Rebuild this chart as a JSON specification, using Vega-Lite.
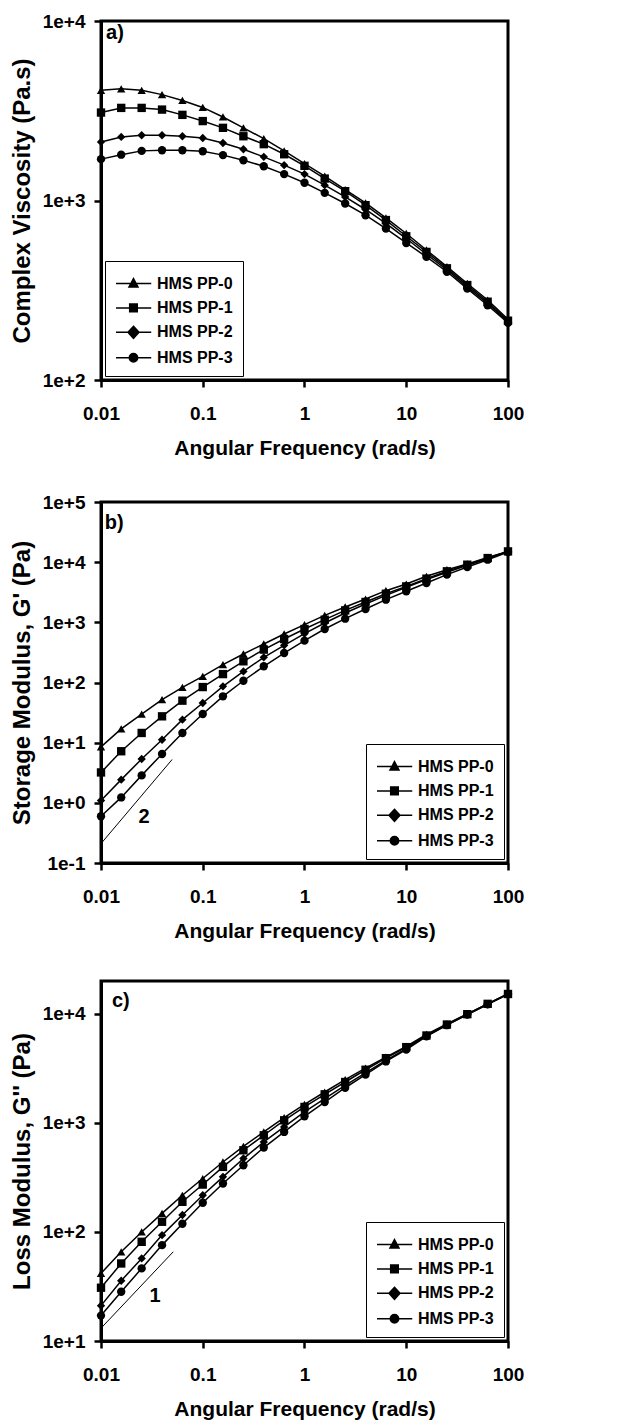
{
"$schema": "https://vega.github.io/schema/vega-lite/v6.json",
"padding": {"left": 8, "top": 10, "right": 5, "bottom": 5},
"background": "white",
"datasets": {
"a": [
{"w":0.01,"s":"HMS PP-0","v":4110},{"w":0.0158,"s":"HMS PP-0","v":4190},{"w":0.0251,"s":"HMS PP-0","v":4110},{"w":0.0398,"s":"HMS PP-0","v":3890},{"w":0.0631,"s":"HMS PP-0","v":3610},{"w":0.1,"s":"HMS PP-0","v":3300},{"w":0.158,"s":"HMS PP-0","v":2920},{"w":0.251,"s":"HMS PP-0","v":2540},{"w":0.398,"s":"HMS PP-0","v":2210},{"w":0.631,"s":"HMS PP-0","v":1890},{"w":1,"s":"HMS PP-0","v":1607},{"w":1.58,"s":"HMS PP-0","v":1366},{"w":2.51,"s":"HMS PP-0","v":1150},{"w":3.98,"s":"HMS PP-0","v":970},{"w":6.31,"s":"HMS PP-0","v":801},{"w":10,"s":"HMS PP-0","v":655},{"w":15.8,"s":"HMS PP-0","v":530},{"w":25.1,"s":"HMS PP-0","v":428},{"w":39.8,"s":"HMS PP-0","v":345},{"w":63.1,"s":"HMS PP-0","v":279},{"w":100,"s":"HMS PP-0","v":218},
{"w":0.01,"s":"HMS PP-1","v":3090},{"w":0.0158,"s":"HMS PP-1","v":3280},{"w":0.0251,"s":"HMS PP-1","v":3280},{"w":0.0398,"s":"HMS PP-1","v":3210},{"w":0.0631,"s":"HMS PP-1","v":3000},{"w":0.1,"s":"HMS PP-1","v":2770},{"w":0.158,"s":"HMS PP-1","v":2540},{"w":0.251,"s":"HMS PP-1","v":2280},{"w":0.398,"s":"HMS PP-1","v":2060},{"w":0.631,"s":"HMS PP-1","v":1810},{"w":1,"s":"HMS PP-1","v":1560},{"w":1.58,"s":"HMS PP-1","v":1325},{"w":2.51,"s":"HMS PP-1","v":1127},{"w":3.98,"s":"HMS PP-1","v":942},{"w":6.31,"s":"HMS PP-1","v":778},{"w":10,"s":"HMS PP-1","v":632},{"w":15.8,"s":"HMS PP-1","v":517},{"w":25.1,"s":"HMS PP-1","v":419},{"w":39.8,"s":"HMS PP-1","v":338},{"w":63.1,"s":"HMS PP-1","v":273},{"w":100,"s":"HMS PP-1","v":214},
{"w":0.01,"s":"HMS PP-2","v":2120},{"w":0.0158,"s":"HMS PP-2","v":2260},{"w":0.0251,"s":"HMS PP-2","v":2310},{"w":0.0398,"s":"HMS PP-2","v":2310},{"w":0.0631,"s":"HMS PP-2","v":2280},{"w":0.1,"s":"HMS PP-2","v":2230},{"w":0.158,"s":"HMS PP-2","v":2090},{"w":0.251,"s":"HMS PP-2","v":1930},{"w":0.398,"s":"HMS PP-2","v":1750},{"w":0.631,"s":"HMS PP-2","v":1574},{"w":1,"s":"HMS PP-2","v":1403},{"w":1.58,"s":"HMS PP-2","v":1218},{"w":2.51,"s":"HMS PP-2","v":1047},{"w":3.98,"s":"HMS PP-2","v":891},{"w":6.31,"s":"HMS PP-2","v":745},{"w":10,"s":"HMS PP-2","v":614},{"w":15.8,"s":"HMS PP-2","v":502},{"w":25.1,"s":"HMS PP-2","v":410},{"w":39.8,"s":"HMS PP-2","v":330},{"w":63.1,"s":"HMS PP-2","v":267},{"w":100,"s":"HMS PP-2","v":211},
{"w":0.01,"s":"HMS PP-3","v":1700},{"w":0.0158,"s":"HMS PP-3","v":1800},{"w":0.0251,"s":"HMS PP-3","v":1890},{"w":0.0398,"s":"HMS PP-3","v":1905},{"w":0.0631,"s":"HMS PP-3","v":1905},{"w":0.1,"s":"HMS PP-3","v":1880},{"w":0.158,"s":"HMS PP-3","v":1790},{"w":0.251,"s":"HMS PP-3","v":1676},{"w":0.398,"s":"HMS PP-3","v":1552},{"w":0.631,"s":"HMS PP-3","v":1403},{"w":1,"s":"HMS PP-3","v":1255},{"w":1.58,"s":"HMS PP-3","v":1103},{"w":2.51,"s":"HMS PP-3","v":962},{"w":3.98,"s":"HMS PP-3","v":828},{"w":6.31,"s":"HMS PP-3","v":698},{"w":10,"s":"HMS PP-3","v":580},{"w":15.8,"s":"HMS PP-3","v":485},{"w":25.1,"s":"HMS PP-3","v":401},{"w":39.8,"s":"HMS PP-3","v":323},{"w":63.1,"s":"HMS PP-3","v":261},{"w":100,"s":"HMS PP-3","v":208}
],
"b": [
{"w":0.01,"s":"HMS PP-0","v":8.5},{"w":0.0158,"s":"HMS PP-0","v":16.9},{"w":0.0251,"s":"HMS PP-0","v":29.9},{"w":0.0398,"s":"HMS PP-0","v":51.9},{"w":0.0631,"s":"HMS PP-0","v":83},{"w":0.1,"s":"HMS PP-0","v":126},{"w":0.158,"s":"HMS PP-0","v":198},{"w":0.251,"s":"HMS PP-0","v":298},{"w":0.398,"s":"HMS PP-0","v":437},{"w":0.631,"s":"HMS PP-0","v":640},{"w":1,"s":"HMS PP-0","v":915},{"w":1.58,"s":"HMS PP-0","v":1307},{"w":2.51,"s":"HMS PP-0","v":1800},{"w":3.98,"s":"HMS PP-0","v":2440},{"w":6.31,"s":"HMS PP-0","v":3360},{"w":10,"s":"HMS PP-0","v":4330},{"w":15.8,"s":"HMS PP-0","v":5820},{"w":25.1,"s":"HMS PP-0","v":7500},{"w":39.8,"s":"HMS PP-0","v":9330},{"w":63.1,"s":"HMS PP-0","v":12000},{"w":100,"s":"HMS PP-0","v":15100},
{"w":0.01,"s":"HMS PP-1","v":3.2},{"w":0.0158,"s":"HMS PP-1","v":7.2},{"w":0.0251,"s":"HMS PP-1","v":14.5},{"w":0.0398,"s":"HMS PP-1","v":27.4},{"w":0.0631,"s":"HMS PP-1","v":49.9},{"w":0.1,"s":"HMS PP-1","v":84},{"w":0.158,"s":"HMS PP-1","v":138},{"w":0.251,"s":"HMS PP-1","v":225},{"w":0.398,"s":"HMS PP-1","v":352},{"w":0.631,"s":"HMS PP-1","v":528},{"w":1,"s":"HMS PP-1","v":775},{"w":1.58,"s":"HMS PP-1","v":1107},{"w":2.51,"s":"HMS PP-1","v":1582},{"w":3.98,"s":"HMS PP-1","v":2180},{"w":6.31,"s":"HMS PP-1","v":2990},{"w":10,"s":"HMS PP-1","v":3960},{"w":15.8,"s":"HMS PP-1","v":5320},{"w":25.1,"s":"HMS PP-1","v":7050},{"w":39.8,"s":"HMS PP-1","v":9080},{"w":63.1,"s":"HMS PP-1","v":11700},{"w":100,"s":"HMS PP-1","v":15100},
{"w":0.01,"s":"HMS PP-2","v":1.09},{"w":0.0158,"s":"HMS PP-2","v":2.43},{"w":0.0251,"s":"HMS PP-2","v":5.35},{"w":0.0398,"s":"HMS PP-2","v":11.2},{"w":0.0631,"s":"HMS PP-2","v":24.1},{"w":0.1,"s":"HMS PP-2","v":45.6},{"w":0.158,"s":"HMS PP-2","v":86.3},{"w":0.251,"s":"HMS PP-2","v":153},{"w":0.398,"s":"HMS PP-2","v":262},{"w":0.631,"s":"HMS PP-2","v":415},{"w":1,"s":"HMS PP-2","v":648},{"w":1.58,"s":"HMS PP-2","v":975},{"w":2.51,"s":"HMS PP-2","v":1430},{"w":3.98,"s":"HMS PP-2","v":2020},{"w":6.31,"s":"HMS PP-2","v":2810},{"w":10,"s":"HMS PP-2","v":3820},{"w":15.8,"s":"HMS PP-2","v":5120},{"w":25.1,"s":"HMS PP-2","v":6780},{"w":39.8,"s":"HMS PP-2","v":8850},{"w":63.1,"s":"HMS PP-2","v":11400},{"w":100,"s":"HMS PP-2","v":15100},
{"w":0.01,"s":"HMS PP-3","v":0.6},{"w":0.0158,"s":"HMS PP-3","v":1.23},{"w":0.0251,"s":"HMS PP-3","v":2.86},{"w":0.0398,"s":"HMS PP-3","v":6.48},{"w":0.0631,"s":"HMS PP-3","v":14.5},{"w":0.1,"s":"HMS PP-3","v":29.9},{"w":0.158,"s":"HMS PP-3","v":58.9},{"w":0.251,"s":"HMS PP-3","v":107},{"w":0.398,"s":"HMS PP-3","v":186},{"w":0.631,"s":"HMS PP-3","v":309},{"w":1,"s":"HMS PP-3","v":496},{"w":1.58,"s":"HMS PP-3","v":775},{"w":2.51,"s":"HMS PP-3","v":1150},{"w":3.98,"s":"HMS PP-3","v":1667},{"w":6.31,"s":"HMS PP-3","v":2380},{"w":10,"s":"HMS PP-3","v":3280},{"w":15.8,"s":"HMS PP-3","v":4500},{"w":25.1,"s":"HMS PP-3","v":6200},{"w":39.8,"s":"HMS PP-3","v":8310},{"w":63.1,"s":"HMS PP-3","v":11000},{"w":100,"s":"HMS PP-3","v":14750}
],
"c": [
{"w":0.01,"s":"HMS PP-0","v":41.7},{"w":0.0158,"s":"HMS PP-0","v":65.8},{"w":0.0251,"s":"HMS PP-0","v":100},{"w":0.0398,"s":"HMS PP-0","v":148},{"w":0.0631,"s":"HMS PP-0","v":217},{"w":0.1,"s":"HMS PP-0","v":309},{"w":0.158,"s":"HMS PP-0","v":438},{"w":0.251,"s":"HMS PP-0","v":610},{"w":0.398,"s":"HMS PP-0","v":826},{"w":0.631,"s":"HMS PP-0","v":1117},{"w":1,"s":"HMS PP-0","v":1480},{"w":1.58,"s":"HMS PP-0","v":1919},{"w":2.51,"s":"HMS PP-0","v":2490},{"w":3.98,"s":"HMS PP-0","v":3180},{"w":6.31,"s":"HMS PP-0","v":4010},{"w":10,"s":"HMS PP-0","v":5020},{"w":15.8,"s":"HMS PP-0","v":6470},{"w":25.1,"s":"HMS PP-0","v":8100},{"w":39.8,"s":"HMS PP-0","v":10000},{"w":63.1,"s":"HMS PP-0","v":12350},{"w":100,"s":"HMS PP-0","v":15200},
{"w":0.01,"s":"HMS PP-1","v":30.8},{"w":0.0158,"s":"HMS PP-1","v":51.4},{"w":0.0251,"s":"HMS PP-1","v":81.2},{"w":0.0398,"s":"HMS PP-1","v":124},{"w":0.0631,"s":"HMS PP-1","v":189},{"w":0.1,"s":"HMS PP-1","v":272},{"w":0.158,"s":"HMS PP-1","v":395},{"w":0.251,"s":"HMS PP-1","v":561},{"w":0.398,"s":"HMS PP-1","v":770},{"w":0.631,"s":"HMS PP-1","v":1056},{"w":1,"s":"HMS PP-1","v":1400},{"w":1.58,"s":"HMS PP-1","v":1828},{"w":2.51,"s":"HMS PP-1","v":2370},{"w":3.98,"s":"HMS PP-1","v":3070},{"w":6.31,"s":"HMS PP-1","v":3920},{"w":10,"s":"HMS PP-1","v":4950},{"w":15.8,"s":"HMS PP-1","v":6330},{"w":25.1,"s":"HMS PP-1","v":7980},{"w":39.8,"s":"HMS PP-1","v":9930},{"w":63.1,"s":"HMS PP-1","v":12350},{"w":100,"s":"HMS PP-1","v":15200},
{"w":0.01,"s":"HMS PP-2","v":21.1},{"w":0.0158,"s":"HMS PP-2","v":35.7},{"w":0.0251,"s":"HMS PP-2","v":57.2},{"w":0.0398,"s":"HMS PP-2","v":93.5},{"w":0.0631,"s":"HMS PP-2","v":143},{"w":0.1,"s":"HMS PP-2","v":217},{"w":0.158,"s":"HMS PP-2","v":320},{"w":0.251,"s":"HMS PP-2","v":471},{"w":0.398,"s":"HMS PP-2","v":669},{"w":0.631,"s":"HMS PP-2","v":918},{"w":1,"s":"HMS PP-2","v":1260},{"w":1.58,"s":"HMS PP-2","v":1668},{"w":2.51,"s":"HMS PP-2","v":2210},{"w":3.98,"s":"HMS PP-2","v":2870},{"w":6.31,"s":"HMS PP-2","v":3740},{"w":10,"s":"HMS PP-2","v":4790},{"w":15.8,"s":"HMS PP-2","v":6250},{"w":25.1,"s":"HMS PP-2","v":7930},{"w":39.8,"s":"HMS PP-2","v":9860},{"w":63.1,"s":"HMS PP-2","v":12250},{"w":100,"s":"HMS PP-2","v":15200},
{"w":0.01,"s":"HMS PP-3","v":17.1},{"w":0.0158,"s":"HMS PP-3","v":28.3},{"w":0.0251,"s":"HMS PP-3","v":46.3},{"w":0.0398,"s":"HMS PP-3","v":75.7},{"w":0.0631,"s":"HMS PP-3","v":119},{"w":0.1,"s":"HMS PP-3","v":185},{"w":0.158,"s":"HMS PP-3","v":278},{"w":0.251,"s":"HMS PP-3","v":409},{"w":0.398,"s":"HMS PP-3","v":594},{"w":0.631,"s":"HMS PP-3","v":826},{"w":1,"s":"HMS PP-3","v":1149},{"w":1.58,"s":"HMS PP-3","v":1553},{"w":2.51,"s":"HMS PP-3","v":2100},{"w":3.98,"s":"HMS PP-3","v":2770},{"w":6.31,"s":"HMS PP-3","v":3660},{"w":10,"s":"HMS PP-3","v":4710},{"w":15.8,"s":"HMS PP-3","v":6210},{"w":25.1,"s":"HMS PP-3","v":7870},{"w":39.8,"s":"HMS PP-3","v":9860},{"w":63.1,"s":"HMS PP-3","v":12250},{"w":100,"s":"HMS PP-3","v":15200}
]
},
"vconcat": [
{
"width": 407, "height": 359,
"layer": [
{"data": {"name": "a"}, "mark": {"type": "line", "color": "black", "strokeWidth": 1.5},
 "encoding": {
  "x": {"field": "w", "type": "quantitative", "scale": {"type": "log", "domain": [0.01, 100], "nice": false}, "axis": {"values": [0.01, 0.1, 1, 10, 100], "format": "~g", "title": "Angular Frequency (rad/s)"}},
  "y": {"field": "v", "type": "quantitative", "scale": {"type": "log", "domain": [100, 10000], "nice": false}, "axis": {"values": [100, 1000, 10000], "labelExpr": "'1e' + (datum.value >= 1 ? '+' : '') + round(log(datum.value)/LN10)", "title": "Complex Viscosity (Pa.s)"}},
  "detail": {"field": "s"}}},
{"data": {"name": "a"}, "mark": {"type": "point", "filled": true, "color": "black", "size": 70, "opacity": 1},
 "encoding": {
  "x": {"field": "w", "type": "quantitative"},
  "y": {"field": "v", "type": "quantitative"},
  "shape": {"field": "s", "type": "nominal", "scale": {"domain": ["HMS PP-0", "HMS PP-1", "HMS PP-2", "HMS PP-3"], "range": ["triangle-up", "square", "diamond", "circle"]}, "legend": null}}},
{"data": {"name": "a"}, "transform": [{"filter": "false"}], "mark": {"type": "point", "filled": false, "color": "black", "strokeWidth": 1.5, "size": 529, "opacity": 1},
 "encoding": {
  "x": {"field": "w", "type": "quantitative"},
  "y": {"field": "v", "type": "quantitative"},
  "shape": {"field": "s", "type": "nominal", "scale": {"domain": ["HMS PP-0", "HMS PP-1", "HMS PP-2", "HMS PP-3"], "range": ["M-1,0H2.065M0.52,-0.42L0.91,0.3L0.13,0.3ZM0.52,-0.252L0.7735,0.216L0.2665,0.216ZM0.52,-0.084L0.637,0.132L0.403,0.132Z", "M-1,0H2.065M0.19,-0.33H0.85V0.33H0.19ZM0.3,-0.22H0.74V0.22H0.3ZM0.41,-0.11H0.63V0.11H0.41Z", "M-1,0H2.065M0.52,-0.52L1,0L0.52,0.52L0.04,0ZM0.52,-0.364L0.856,0L0.52,0.364L0.184,0ZM0.52,-0.208L0.712,0L0.52,0.208L0.328,0ZM0.52,-0.062L0.578,0L0.52,0.062L0.462,0Z", "M-1,0H2.065M0.155,0A0.365,0.365,0,1,0,0.885,0A0.365,0.365,0,1,0,0.155,0ZM0.27,0A0.25,0.25,0,1,0,0.77,0A0.25,0.25,0,1,0,0.27,0ZM0.385,0A0.135,0.135,0,1,0,0.655,0A0.135,0.135,0,1,0,0.385,0Z"]},
   "legend": {"title": null, "orient": "bottom-left", "offset": 4}}}},
{"data": {"values": [{"w": 0.0112, "v": 8570, "t": "a)"}]}, "mark": {"type": "text", "align": "left", "baseline": "middle", "fontSize": 20, "fontWeight": "bold", "color": "black"},
 "encoding": {"x": {"field": "w", "type": "quantitative"}, "y": {"field": "v", "type": "quantitative"}, "text": {"field": "t"}}}
],
"resolve": {"scale": {"shape": "independent"}, "legend": {"shape": "independent"}}
},
{
"vconcat": [
{
"width": 407, "height": 361,
"layer": [
{"data": {"name": "b"}, "mark": {"type": "line", "color": "black", "strokeWidth": 1.5},
 "encoding": {
  "x": {"field": "w", "type": "quantitative", "scale": {"type": "log", "domain": [0.01, 100], "nice": false}, "axis": {"values": [0.01, 0.1, 1, 10, 100], "format": "~g", "title": "Angular Frequency (rad/s)"}},
  "y": {"field": "v", "type": "quantitative", "scale": {"type": "log", "domain": [0.1, 100000], "nice": false}, "axis": {"values": [0.1, 1, 10, 100, 1000, 10000, 100000], "labelExpr": "'1e' + (datum.value >= 1 ? '+' : '') + round(log(datum.value)/LN10)", "title": "Storage Modulus, G' (Pa)"}},
  "detail": {"field": "s"}}},
{"data": {"name": "b"}, "mark": {"type": "point", "filled": true, "color": "black", "size": 70, "opacity": 1},
 "encoding": {
  "x": {"field": "w", "type": "quantitative"},
  "y": {"field": "v", "type": "quantitative"},
  "shape": {"field": "s", "type": "nominal", "scale": {"domain": ["HMS PP-0", "HMS PP-1", "HMS PP-2", "HMS PP-3"], "range": ["triangle-up", "square", "diamond", "circle"]}, "legend": null}}},
{"data": {"name": "b"}, "transform": [{"filter": "false"}], "mark": {"type": "point", "filled": false, "color": "black", "strokeWidth": 1.5, "size": 529, "opacity": 1},
 "encoding": {
  "x": {"field": "w", "type": "quantitative"},
  "y": {"field": "v", "type": "quantitative"},
  "shape": {"field": "s", "type": "nominal", "scale": {"domain": ["HMS PP-0", "HMS PP-1", "HMS PP-2", "HMS PP-3"], "range": ["M-1,0H2.065M0.52,-0.42L0.91,0.3L0.13,0.3ZM0.52,-0.252L0.7735,0.216L0.2665,0.216ZM0.52,-0.084L0.637,0.132L0.403,0.132Z", "M-1,0H2.065M0.19,-0.33H0.85V0.33H0.19ZM0.3,-0.22H0.74V0.22H0.3ZM0.41,-0.11H0.63V0.11H0.41Z", "M-1,0H2.065M0.52,-0.52L1,0L0.52,0.52L0.04,0ZM0.52,-0.364L0.856,0L0.52,0.364L0.184,0ZM0.52,-0.208L0.712,0L0.52,0.208L0.328,0ZM0.52,-0.062L0.578,0L0.52,0.062L0.462,0Z", "M-1,0H2.065M0.155,0A0.365,0.365,0,1,0,0.885,0A0.365,0.365,0,1,0,0.155,0ZM0.27,0A0.25,0.25,0,1,0,0.77,0A0.25,0.25,0,1,0,0.27,0ZM0.385,0A0.135,0.135,0,1,0,0.655,0A0.135,0.135,0,1,0,0.385,0Z"]},
   "legend": {"title": null, "orient": "bottom-right", "offset": 4}}}},
{"data": {"values": [{"w": 0.01, "v": 0.21}, {"w": 0.05, "v": 5.25}]}, "mark": {"type": "line", "color": "black", "strokeWidth": 1},
 "encoding": {"x": {"field": "w", "type": "quantitative"}, "y": {"field": "v", "type": "quantitative"}}},
{"data": {"values": [{"w": 0.0109, "v": 44800, "t": "b)"}]}, "mark": {"type": "text", "align": "left", "baseline": "middle", "fontSize": 20, "fontWeight": "bold", "color": "black"},
 "encoding": {"x": {"field": "w", "type": "quantitative"}, "y": {"field": "v", "type": "quantitative"}, "text": {"field": "t"}}},
{"data": {"values": [{"w": 0.0265, "v": 0.585, "t": "2"}]}, "mark": {"type": "text", "align": "center", "baseline": "middle", "fontSize": 20, "fontWeight": "bold", "color": "black"},
 "encoding": {"x": {"field": "w", "type": "quantitative"}, "y": {"field": "v", "type": "quantitative"}, "text": {"field": "t"}}}
],
"resolve": {"scale": {"shape": "independent"}, "legend": {"shape": "independent"}}
},
{
"width": 407, "height": 360,
"layer": [
{"data": {"name": "c"}, "mark": {"type": "line", "color": "black", "strokeWidth": 1.5},
 "encoding": {
  "x": {"field": "w", "type": "quantitative", "scale": {"type": "log", "domain": [0.01, 100], "nice": false}, "axis": {"values": [0.01, 0.1, 1, 10, 100], "format": "~g", "title": "Angular Frequency (rad/s)"}},
  "y": {"field": "v", "type": "quantitative", "scale": {"type": "log", "domain": [10, 20000], "nice": false}, "axis": {"values": [10, 100, 1000, 10000], "labelExpr": "'1e' + (datum.value >= 1 ? '+' : '') + round(log(datum.value)/LN10)", "title": "Loss Modulus, G'' (Pa)"}},
  "detail": {"field": "s"}}},
{"data": {"name": "c"}, "mark": {"type": "point", "filled": true, "color": "black", "size": 70, "opacity": 1},
 "encoding": {
  "x": {"field": "w", "type": "quantitative"},
  "y": {"field": "v", "type": "quantitative"},
  "shape": {"field": "s", "type": "nominal", "scale": {"domain": ["HMS PP-0", "HMS PP-1", "HMS PP-2", "HMS PP-3"], "range": ["triangle-up", "square", "diamond", "circle"]}, "legend": null}}},
{"data": {"name": "c"}, "transform": [{"filter": "false"}], "mark": {"type": "point", "filled": false, "color": "black", "strokeWidth": 1.5, "size": 529, "opacity": 1},
 "encoding": {
  "x": {"field": "w", "type": "quantitative"},
  "y": {"field": "v", "type": "quantitative"},
  "shape": {"field": "s", "type": "nominal", "scale": {"domain": ["HMS PP-0", "HMS PP-1", "HMS PP-2", "HMS PP-3"], "range": ["M-1,0H2.065M0.52,-0.42L0.91,0.3L0.13,0.3ZM0.52,-0.252L0.7735,0.216L0.2665,0.216ZM0.52,-0.084L0.637,0.132L0.403,0.132Z", "M-1,0H2.065M0.19,-0.33H0.85V0.33H0.19ZM0.3,-0.22H0.74V0.22H0.3ZM0.41,-0.11H0.63V0.11H0.41Z", "M-1,0H2.065M0.52,-0.52L1,0L0.52,0.52L0.04,0ZM0.52,-0.364L0.856,0L0.52,0.364L0.184,0ZM0.52,-0.208L0.712,0L0.52,0.208L0.328,0ZM0.52,-0.062L0.578,0L0.52,0.062L0.462,0Z", "M-1,0H2.065M0.155,0A0.365,0.365,0,1,0,0.885,0A0.365,0.365,0,1,0,0.155,0ZM0.27,0A0.25,0.25,0,1,0,0.77,0A0.25,0.25,0,1,0,0.27,0ZM0.385,0A0.135,0.135,0,1,0,0.655,0A0.135,0.135,0,1,0,0.385,0Z"]},
   "legend": {"title": null, "orient": "bottom-right", "offset": 4}}}},
{"data": {"values": [{"w": 0.01, "v": 13.1}, {"w": 0.0513, "v": 65.8}]}, "mark": {"type": "line", "color": "black", "strokeWidth": 1},
 "encoding": {"x": {"field": "w", "type": "quantitative"}, "y": {"field": "v", "type": "quantitative"}}},
{"data": {"values": [{"w": 0.0128, "v": 13150, "t": "c)"}]}, "mark": {"type": "text", "align": "left", "baseline": "middle", "fontSize": 20, "fontWeight": "bold", "color": "black"},
 "encoding": {"x": {"field": "w", "type": "quantitative"}, "y": {"field": "v", "type": "quantitative"}, "text": {"field": "t"}}},
{"data": {"values": [{"w": 0.034, "v": 25.9, "t": "1"}]}, "mark": {"type": "text", "align": "center", "baseline": "middle", "fontSize": 20, "fontWeight": "bold", "color": "black"},
 "encoding": {"x": {"field": "w", "type": "quantitative"}, "y": {"field": "v", "type": "quantitative"}, "text": {"field": "t"}}}
],
"resolve": {"scale": {"shape": "independent"}, "legend": {"shape": "independent"}}
}
],
"spacing": 36,
"resolve": {"scale": {"x": "independent", "y": "independent", "shape": "independent"}, "legend": {"shape": "independent"}}
}
],
"spacing": 31,
"resolve": {"scale": {"x": "independent", "y": "independent", "shape": "independent"}, "legend": {"shape": "independent"}},
"config": {
 "font": "Liberation Sans",
 "view": {"stroke": "black", "strokeWidth": 3},
 "text": {"font": "Liberation Sans"},
 "axis": {"grid": false, "domainColor": "black", "domainWidth": 3, "tickColor": "black", "tickWidth": 2.5, "tickSize": 7, "labelFont": "Liberation Sans", "labelFontWeight": "bold", "labelFontSize": 19, "labelColor": "black", "titleFont": "Liberation Sans", "titleFontWeight": "bold", "titleFontSize": 21, "titleColor": "black", "labelOverlap": false, "labelFlush": false},
 "axisX": {"labelPadding": 17, "titlePadding": 14},
 "axisY": {"labelPadding": 9, "titlePadding": 8, "titleFontSize": 24},
 "legend": {"strokeColor": "black", "strokeWidth": 1, "padding": 10, "symbolSize": 529, "labelOffset": 17, "labelFont": "Liberation Sans", "labelFontWeight": "bold", "labelFontSize": 16, "labelColor": "black", "rowPadding": 3.4, "symbolStrokeWidth": 1.5, "symbolStrokeColor": "black", "symbolOpacity": 1, "fillColor": "white"}
}
}
